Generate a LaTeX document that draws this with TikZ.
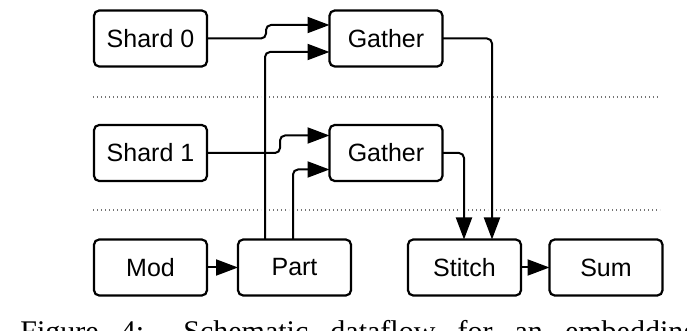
\documentclass[tikz,border=0pt]{standalone}
\usepackage{fontspec}
\setmainfont{Liberation Serif}
\newfontfamily\labelfont{Liberation Sans}
\usetikzlibrary{arrows.meta,calc}
\begin{document}
\begin{tikzpicture}[x=0.5pt,y=-0.5pt,
  box/.style={draw=black,line width=1.1pt,rounded corners=2.6pt,
    minimum width=56.5pt,minimum height=28pt,inner sep=0pt,outer sep=0pt,
    font=\labelfont\fontsize{12.5pt}{14pt}\selectfont},
  conn/.style={line width=1pt,rounded corners=2.5pt,
    -{Triangle[length=11pt,width=8pt]}},
  sep/.style={line width=0.55pt,draw=black!55,dash pattern=on 0.55pt off 1.45pt}]
\useasboundingbox (0,0) rectangle (687,331);
% separators
\draw[sep] (93,97) -- (261,97);
\draw[sep] (269,97) -- (660,97);
\draw[sep] (93,210) -- (261,210);
\draw[sep] (269,210) -- (289,210);
\draw[sep] (297,210) -- (460,210);
\draw[sep] (468,210) -- (488,210);
\draw[sep] (496,210) -- (660,210);
% nodes
\node[box] (s0) at (150.5,38.5) {Shard 0};
\node[box] (g0) at (386,38.5) {Gather};
\node[box] (s1) at (150.5,153) {Shard 1};
\node[box] (g1) at (386,153) {Gather};
\node[box] (m) at (150.5,267.5) {Mod};
\node[box] (p) at (294.5,267.5) {Part};
\node[box] (st) at (464.5,267.5) {Stitch};
\node[box] (su) at (606,267.5) {Sum};
% connectors
\draw[conn] (s0.east) -- ++(29.5pt,0) |- ([yshift=6.75pt]g0.west);
\draw[conn] (s1.east) -- ++(36.5pt,0) |- ([yshift=8.75pt]g1.west);
\draw[conn] ([xshift=-14.75pt]p.north) |- ([yshift=-6.75pt]g0.west);
\draw[conn] ([xshift=-0.75pt]p.north) |- ([yshift=-8.25pt]g1.west);
\draw[conn] (g0.east) -| ([xshift=13.75pt]st.north);
\draw[conn] (g1.east) -| ([xshift=-0.25pt]st.north);
\draw[conn] (m.east) -- (p.west);
\draw[conn] (st.east) -- (su.west);
% caption (cut off by the picture's lower edge, as in the reference)
\node[anchor=north west,inner sep=0pt,font=\fontsize{15pt}{17pt}\selectfont] (cap) at (20,320)
  {\makebox[380pt][s]{Figure 4: Schematic dataflow for an embedding layer}};
\end{tikzpicture}
\end{document}
